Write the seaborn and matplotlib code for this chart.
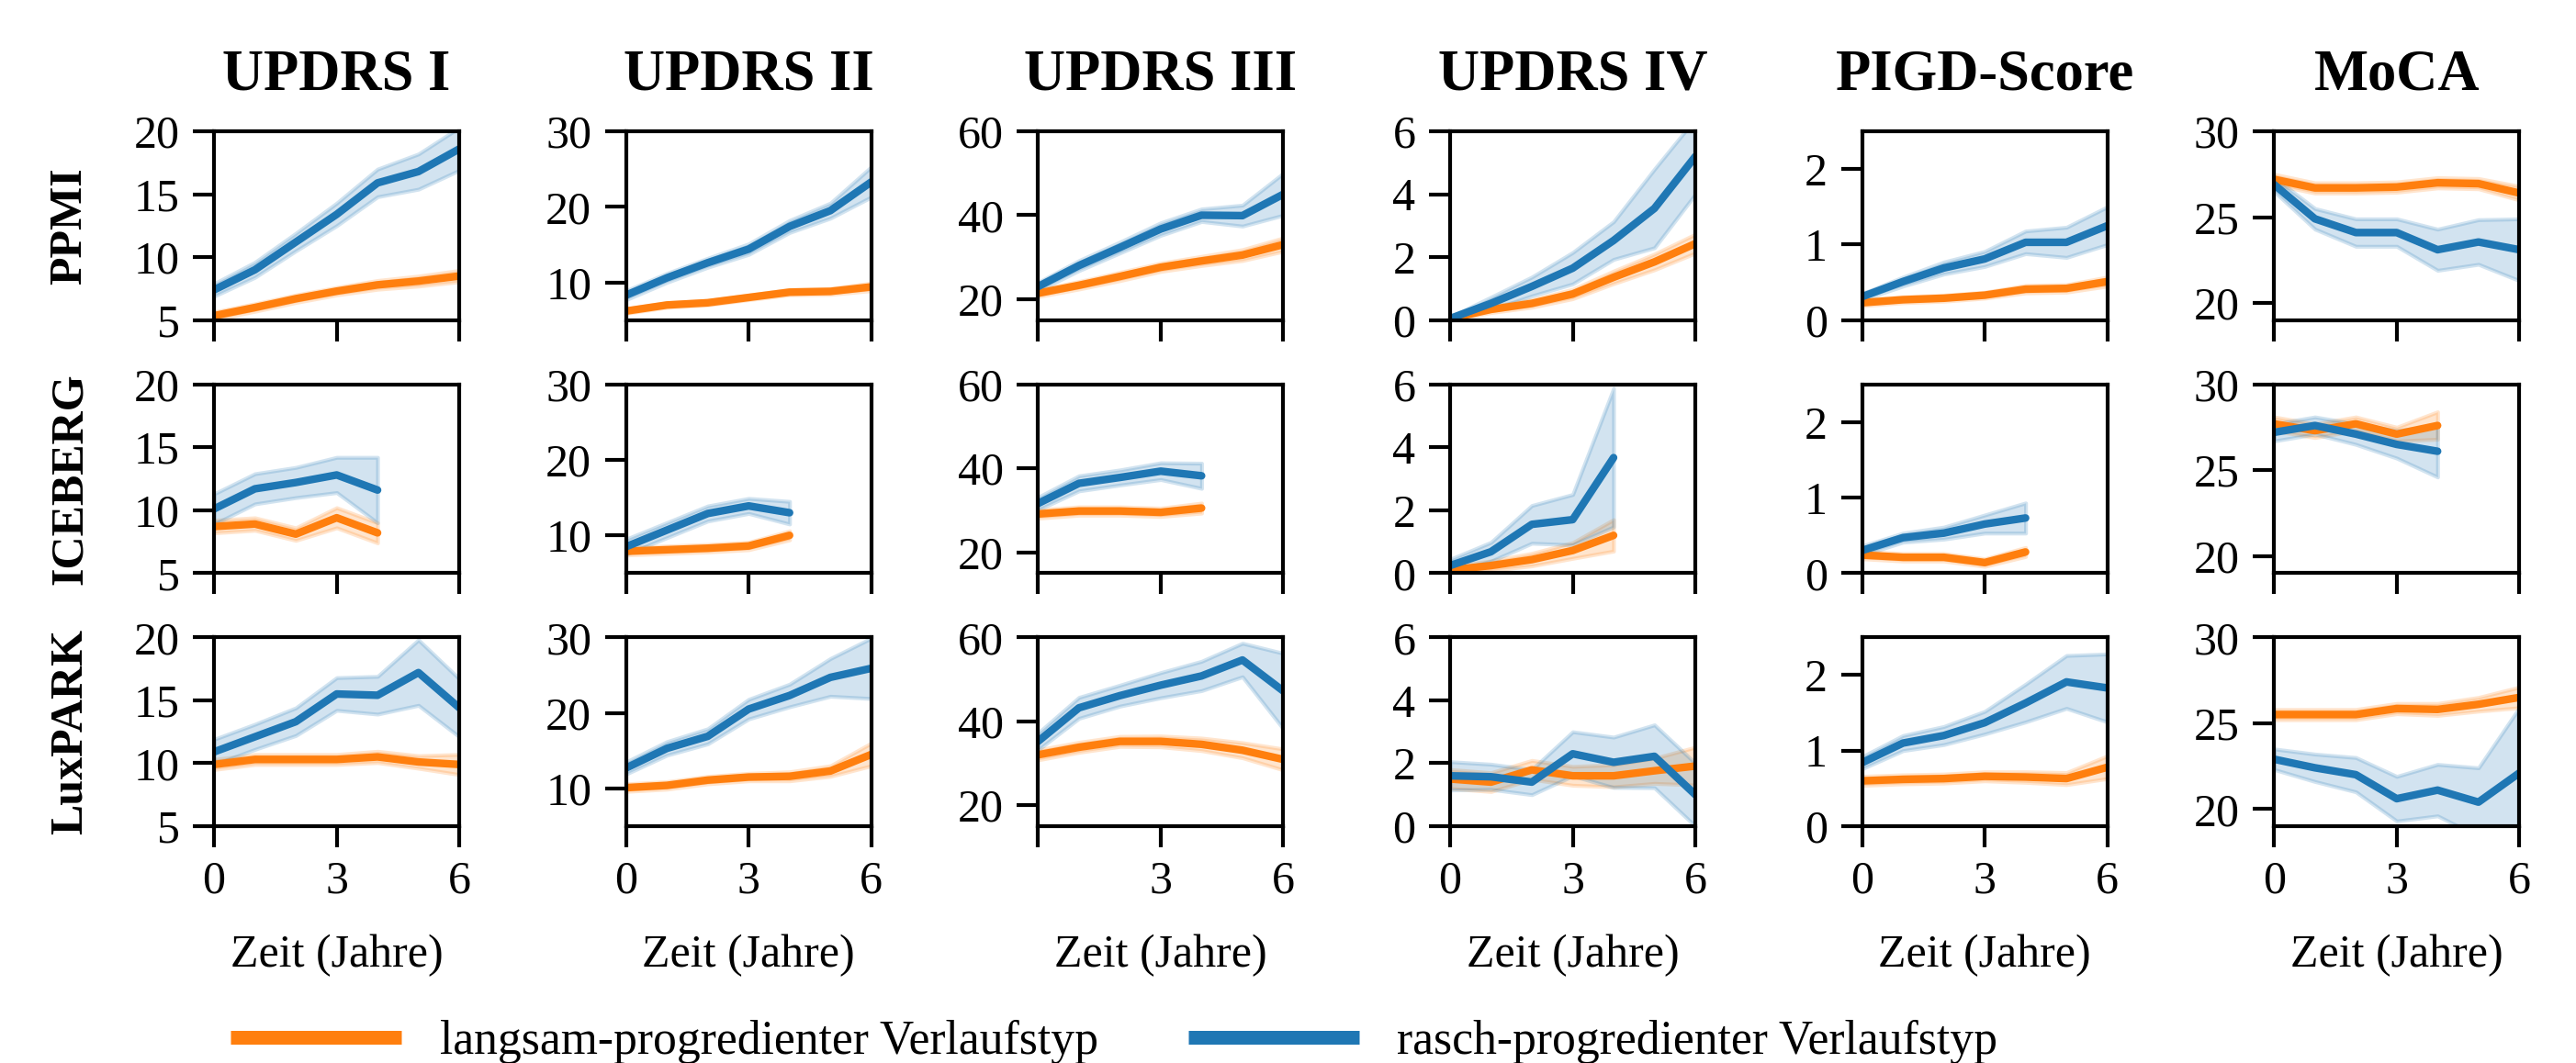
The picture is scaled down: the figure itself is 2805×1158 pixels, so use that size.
import numpy as np
import pandas as pd
import matplotlib
matplotlib.use("Agg")
import matplotlib.pyplot as plt
import seaborn as sns
from matplotlib.lines import Line2D

# ---- data ----
COHORTS = ["PPMI", "ICEBERG", "LuxPARK"]
SCORES = ["UPDRS I", "UPDRS II", "UPDRS III", "UPDRS IV", "PIGD-Score", "MoCA"]
GROUPS = ["langsam-progredienter Verlaufstyp", "rasch-progredienter Verlaufstyp"]
YEARS_LONG = [0, 1, 2, 3, 4, 5, 6]
YEARS_SHORT = [0, 1, 2, 3, 4]

# mean per score, then half-width of the confidence band
PPMI_SLOW = [
    [5.35, 6.0, 6.7, 7.3, 7.8, 8.1, 8.5],
    [6.2, 7.0, 7.3, 8.0, 8.7, 8.8, 9.4],
    [21.4, 23.3, 25.4, 27.6, 29.1, 30.5, 33.0],
    [0.05, 0.34, 0.53, 0.83, 1.36, 1.85, 2.43],
    [0.23, 0.27, 0.29, 0.33, 0.41, 0.42, 0.51],
    [27.2, 26.7, 26.7, 26.75, 27.0, 26.95, 26.4],
]
PPMI_SLOW_CI = [
    [0.3, 0.3, 0.3, 0.3, 0.35, 0.4, 0.45],
    [0.3, 0.3, 0.3, 0.3, 0.35, 0.4, 0.5],
    [0.8, 0.9, 1.0, 1.0, 1.1, 1.3, 1.6],
    [0.05, 0.1, 0.12, 0.15, 0.2, 0.25, 0.3],
    [0.04, 0.04, 0.04, 0.04, 0.05, 0.05, 0.06],
    [0.3, 0.3, 0.3, 0.3, 0.3, 0.3, 0.4],
]
PPMI_FAST = [
    [7.4, 9.0, 11.2, 13.4, 15.9, 16.8, 18.6],
    [8.3, 10.6, 12.6, 14.4, 17.4, 19.5, 23.3],
    [23.0, 28.0, 32.3, 36.7, 40.0, 39.9, 45.0],
    [0.05, 0.53, 1.07, 1.65, 2.53, 3.55, 5.2],
    [0.31, 0.51, 0.69, 0.81, 1.03, 1.03, 1.25],
    [26.9, 24.9, 24.1, 24.1, 23.1, 23.55, 23.1],
]
PPMI_FAST_CI = [
    [0.5, 0.6, 0.7, 0.9, 1.1, 1.4, 1.7],
    [0.6, 0.6, 0.6, 0.7, 0.8, 1.0, 2.0],
    [1.0, 1.2, 1.3, 1.5, 1.5, 2.5, 5.0],
    [0.05, 0.2, 0.3, 0.5, 0.6, 1.25, 1.2],
    [0.04, 0.06, 0.08, 0.1, 0.15, 0.2, 0.25],
    [0.4, 0.6, 0.8, 0.8, 1.2, 1.3, 1.8],
]
ICEBERG_SLOW = [
    [8.7, 8.9, 8.1, 9.4, 8.2],
    [7.9, 8.1, 8.3, 8.6, 10.0],
    [29.1, 29.8, 29.8, 29.5, 30.5],
    [0.1, 0.24, 0.43, 0.72, 1.2],
    [0.24, 0.21, 0.21, 0.14, 0.28],
    [27.7, 27.3, 27.7, 27.1, 27.6],
]
ICEBERG_SLOW_CI = [
    [0.5, 0.5, 0.5, 0.8, 0.8],
    [0.5, 0.5, 0.5, 0.5, 0.6],
    [1.0, 1.0, 1.0, 1.0, 1.2],
    [0.1, 0.15, 0.2, 0.25, 0.5],
    [0.05, 0.05, 0.05, 0.05, 0.06],
    [0.4, 0.4, 0.4, 0.4, 0.8],
]
ICEBERG_FAST = [
    [10.1, 11.7, 12.2, 12.8, 11.6],
    [8.5, 10.7, 12.9, 13.9, 13.0],
    [31.6, 36.4, 37.8, 39.3, 38.2],
    [0.24, 0.68, 1.55, 1.7, 3.67],
    [0.3, 0.47, 0.53, 0.65, 0.73],
    [27.2, 27.6, 27.1, 26.5, 26.1],
]
ICEBERG_FAST_CI = [
    [1.2, 1.2, 1.2, 1.4, 2.6],
    [1.0, 1.0, 1.0, 1.0, 1.5],
    [1.5, 1.8, 1.8, 2.0, 3.0],
    [0.2, 0.3, 0.6, 0.8, 2.2],
    [0.06, 0.06, 0.08, 0.12, 0.2],
    [0.5, 0.5, 0.6, 0.8, 1.5],
]
LUX_SLOW = [
    [9.9, 10.3, 10.3, 10.3, 10.5, 10.1, 9.9],
    [10.1, 10.4, 11.1, 11.5, 11.6, 12.3, 14.5],
    [32.0, 33.8, 35.2, 35.2, 34.5, 33.1, 30.9],
    [1.5, 1.4, 1.79, 1.6, 1.6, 1.76, 1.91],
    [0.6, 0.62, 0.63, 0.66, 0.65, 0.63, 0.78],
    [25.5, 25.5, 25.5, 25.85, 25.8, 26.1, 26.5],
]
LUX_SLOW_CI = [
    [0.4, 0.4, 0.4, 0.4, 0.45, 0.5, 0.8],
    [0.5, 0.5, 0.5, 0.5, 0.6, 0.7, 1.5],
    [1.2, 1.2, 1.2, 1.3, 1.5, 1.8, 2.5],
    [0.3, 0.3, 0.3, 0.3, 0.35, 0.4, 0.6],
    [0.06, 0.06, 0.06, 0.06, 0.07, 0.08, 0.15],
    [0.3, 0.3, 0.3, 0.3, 0.35, 0.4, 0.6],
]
LUX_FAST = [
    [10.9, 12.1, 13.3, 15.5, 15.4, 17.2, 14.4],
    [12.7, 15.3, 16.9, 20.5, 22.3, 24.7, 25.9],
    [35.2, 43.2, 46.1, 48.6, 50.8, 54.6, 47.2],
    [1.6, 1.57, 1.4, 2.3, 2.03, 2.22, 1.0],
    [0.84, 1.1, 1.2, 1.37, 1.63, 1.91, 1.83],
    [22.9, 22.4, 22.0, 20.6, 21.1, 20.4, 22.1],
]
LUX_FAST_CI = [
    [1.0, 1.0, 1.1, 1.3, 1.5, 2.6, 2.3],
    [0.8, 0.9, 1.0, 1.3, 1.5, 2.5, 4.0],
    [2.0, 2.5, 2.5, 3.0, 3.5, 4.0, 9.0],
    [0.45, 0.4, 0.4, 0.7, 0.8, 1.0, 1.0],
    [0.08, 0.1, 0.12, 0.15, 0.25, 0.35, 0.45],
    [0.6, 0.8, 1.0, 1.3, 1.5, 2.0, 3.8],
]

YLIMS = [(5, 20), (5, 30), (15, 60), (0, 6), (0, 2.5), (19, 30)]
YTICKS = [[5, 10, 15, 20], [10, 20, 30], [20, 40, 60], [0, 2, 4, 6], [0, 1, 2], [20, 25, 30]]
COLORS = {GROUPS[0]: "#ff7f0e", GROUPS[1]: "#1f77b4"}

SERIES = {
    "PPMI": (YEARS_LONG, PPMI_SLOW, PPMI_SLOW_CI, PPMI_FAST, PPMI_FAST_CI),
    "ICEBERG": (YEARS_SHORT, ICEBERG_SLOW, ICEBERG_SLOW_CI, ICEBERG_FAST, ICEBERG_FAST_CI),
    "LuxPARK": (YEARS_LONG, LUX_SLOW, LUX_SLOW_CI, LUX_FAST, LUX_FAST_CI),
}

# long table: lower / mean / upper per time point -> median + full range reproduces line and band
rows = []
for cohort, (years, slow, slow_ci, fast, fast_ci) in SERIES.items():
    for s, score in enumerate(SCORES):
        for group, means, cis in [(GROUPS[0], slow[s], slow_ci[s]), (GROUPS[1], fast[s], fast_ci[s])]:
            for t, m, c in zip(years, means, cis):
                for v in (m - c, m, m + c):
                    rows.append({"cohort": cohort, "score": score, "group": group, "time": t, "value": v})
df = pd.DataFrame(rows)

sns.set_theme(style="ticks")
plt.rcParams["font.family"] = ["Liberation Serif", "DejaVu Serif"]
plt.rcParams.update({
    "axes.linewidth": 1.0,
    "xtick.major.size": 5.5, "ytick.major.size": 5.5,
    "xtick.major.width": 1.0, "ytick.major.width": 1.0,
    "xtick.labelsize": 12, "ytick.labelsize": 12,
    "axes.edgecolor": "black", "text.color": "black", "axes.labelcolor": "black",
    "xtick.color": "black", "ytick.color": "black",
})

fig, axes = plt.subplots(3, 6, figsize=(9.35, 3.86), dpi=300)
fig.subplots_adjust(left=0.0831, right=0.978, top=0.8765, bottom=0.2228, wspace=0.68, hspace=0.34)

for r, cohort in enumerate(COHORTS):
    for c, score in enumerate(SCORES):
        ax = axes[r, c]
        sub = df[(df["cohort"] == cohort) & (df["score"] == score)]
        sns.lineplot(data=sub, x="time", y="value", hue="group", hue_order=GROUPS,
                     palette=COLORS, estimator="median", errorbar=("pi", 100),
                     linewidth=2.0, legend=False, ax=ax)
        ax.set_xlim(0, 6)
        ax.set_xticks([0, 3, 6])
        ax.set_ylim(*YLIMS[c])
        ax.set_yticks(YTICKS[c])
        for sp in ax.spines.values():
            sp.set_visible(True)
            sp.set_color("black")
        ax.set_ylabel("")
        ax.set_xlabel("")
        if r == 0:
            ax.set_title(score, fontsize=15, fontweight="bold", pad=11)
        if r < 2:
            ax.tick_params(axis="x", labelbottom=False)
        else:
            ax.set_xlabel("Zeit (Jahre)", fontsize=12, labelpad=8)
            if c == 2:
                ax.set_xticklabels(["", "3", "6"])
        if c == 0:
            ax.set_ylabel(cohort, fontsize=12, fontweight="bold")
            ax.yaxis.set_label_coords(-0.50, 0.5)

handles = [Line2D([], [], color=COLORS[g], linewidth=3.6, solid_capstyle="butt") for g in GROUPS]
fig.legend(handles, GROUPS, loc="center", bbox_to_anchor=(0.4325, 0.02), ncol=2,
           frameon=False, handlelength=3.6, fontsize=12.4, columnspacing=1.9)

fig.savefig("out.png", dpi=300)
